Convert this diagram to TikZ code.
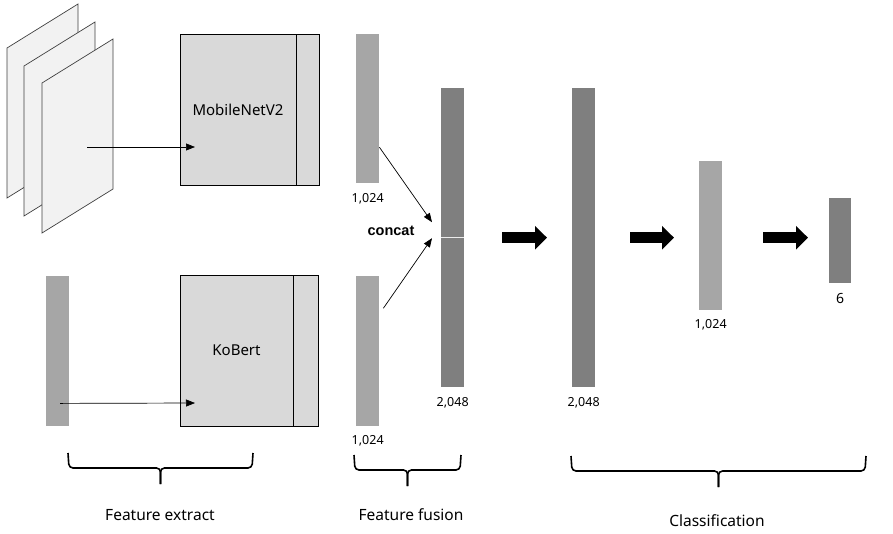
\documentclass[tikz,border=0pt]{standalone}
\usepackage{fontspec}
\setmainfont{Noto Sans}
\newfontfamily\concatfont{Liberation Sans}
\usetikzlibrary{positioning}
\usetikzlibrary{arrows.meta}
\usetikzlibrary{calc}

\definecolor{sheetgray}{HTML}{F2F2F2}
\definecolor{boxgray}{HTML}{D9D9D9}
\definecolor{lightbar}{HTML}{A6A6A6}
\definecolor{darkbar}{HTML}{7F7F7F}

\begin{document}
\begin{tikzpicture}[
				x=1pt, y=-1pt,
				sheet/.style={draw=black!75, fill=sheetgray, line width=0.7pt},
				box/.style={rectangle, draw, fill=boxgray, line width=0.7pt, inner sep=0pt, outer sep=0pt, font=\fontsize{15}{18}\selectfont},
				bar/.style={rectangle, inner sep=0pt, minimum width=23pt, anchor=north west},
				num/.style={inner sep=1pt, font=\fontsize{12.5}{15}\selectfont},
				arrow/.style={-{Triangle[length=9pt, width=7pt]}, line width=0.7pt},
				fat/.style={-{Triangle[length=12pt, width=23pt]}, line width=11pt},
				brace/.style={line width=1.6pt, rounded corners=4pt},
				stage/.style={font=\fontsize{15.5}{18}\selectfont}
			]
			\useasboundingbox (0,0) rectangle (893,533);

			% Input images
			\foreach \dx/\dy in {0/0, 17/18, 35/35} {
				\draw[sheet] (7+\dx,48+\dy) -- (78+\dx,4+\dy) -- (78+\dx,154+\dy) -- (7+\dx,198+\dy) -- cycle;
			}
			\coordinate (img) at (87,147);
			\node[bar, fill=lightbar, minimum height=150pt] (txt) at (46,276) {};

			% Feature extract
			\node[box, minimum width=116pt, minimum height=151pt, anchor=north west] (mobile) at (180,34) {MobileNetV2};
			\node[box, minimum width=23pt, minimum height=151pt, right=0pt of mobile] (mobiletail) {};
			\node[box, minimum width=113pt, minimum height=151pt, anchor=north west] (kobert) at (180,275) {KoBert};
			\node[box, minimum width=25pt, minimum height=151pt, right=0pt of kobert] (koberttail) {};

			\draw[arrow] (img) -- ($(mobile.west)+(15,37.5)$);
			\draw[arrow] ($(txt.south)+(2.5,-23)$) -- ($(kobert.west)+(15,52.5)$);

			% Feature fusion
			\node[bar, fill=lightbar, minimum height=149pt] (vimg) at (356,34) {};
			\node[bar, fill=lightbar, minimum height=150pt] (vtxt) at (356,276) {};
			\node[bar, fill=darkbar, minimum height=299pt] (cat) at (441,88) {};
			\draw[white!85!darkbar, line width=0.6pt] (cat.west) -- (cat.east);

			\node[num, below=9pt of vimg] (vimgdim) {1,024};
			\node[num, below=8pt of vtxt] (vtxtdim) {1,024};
			\node[num, below=9pt of cat] (catdim) {2,048};
			\node[font=\concatfont\bfseries\fontsize{14.5}{17}\selectfont] (concat) at (391,231) {concat};

			\draw[arrow] ($(vimg.east)+(0,38.5)$) -- ($(cat.west)+(-9,-15.5)$);
			\draw[arrow] ($(vtxt.east)+(4,-43)$) -- ($(cat.west)+(-9,0.5)$);

			% Classification
			\node[bar, fill=darkbar, minimum height=299pt] (fc1) at (572,88) {};
			\node[bar, fill=lightbar, minimum height=149pt] (fc2) at (699,161) {};
			\node[bar, fill=darkbar, minimum width=22pt, minimum height=85pt] (out) at (829,198) {};

			\node[num, below=9pt of fc1] (fc1dim) {2,048};
			\node[num, below=8pt of fc2] (fc2dim) {1,024};
			\node[num, font=\fontsize{14}{16}\selectfont, below=9pt of out] (outdim) {6};

			\draw[fat, shorten <=38pt, shorten >=25pt] (cat.east) -- (fc1.west);
			\draw[fat, shorten <=35pt, shorten >=25pt] (fc1.east) -- (fc1.east -| fc2.west);
			\draw[fat, shorten <=41pt, shorten >=21pt] (fc1.east -| fc2.east) -- (fc1.east -| out.west);

			% Stages
			\foreach \a/\b/\t in {68/253/453, 354/461/455, 571/866/456} {
				\pgfmathsetmacro{\m}{(\a+\b)/2}
				\draw[brace] (\a,\t) -- (\a+1,\t+15) -- (\m,\t+15) -- (\m,\t+31);
				\draw[brace] (\b,\t) -- (\b-1,\t+15) -- (\m,\t+15) -- (\m,\t+31);
			}

			\node[stage] (extract) at (160,515) {Feature extract};
			\node[stage] (fusion) at (411,515) {Feature fusion};
			\node[stage] (classify) at (717,521) {Classification};

		\end{tikzpicture}
\end{document}
